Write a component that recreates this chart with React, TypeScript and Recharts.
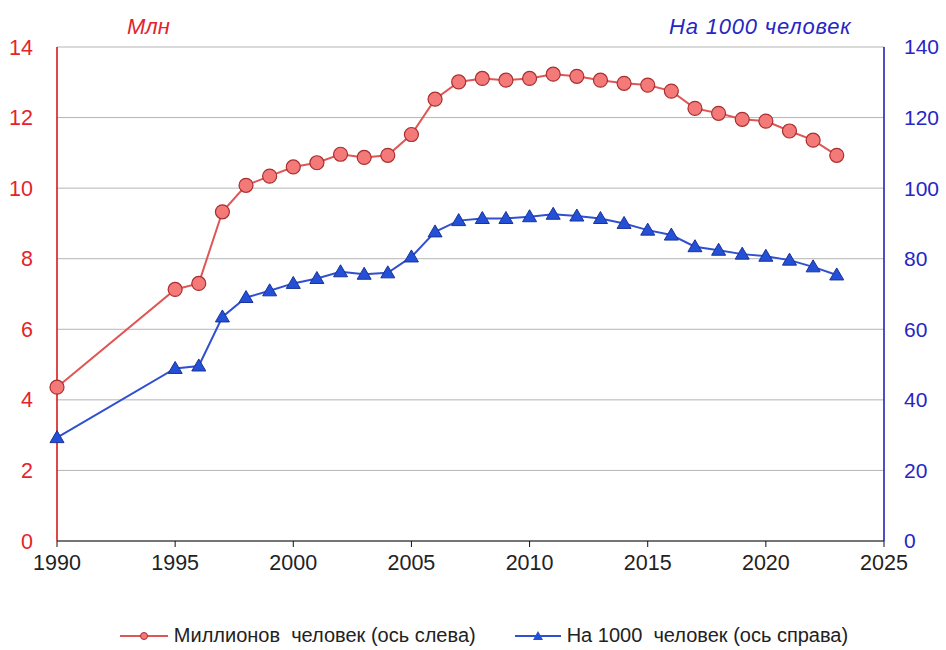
import React from 'react';
import { LineChart, Line, XAxis, YAxis, CartesianGrid, Legend } from 'recharts';

// годы наблюдений
const years = [1990, 1995, 1996, 1997, 1998, 1999, 2000, 2001, 2002, 2003, 2004, 2005, 2006, 2007, 2008, 2009, 2010, 2011, 2012, 2013, 2014, 2015, 2016, 2017, 2018, 2019, 2020, 2021, 2022, 2023];
// миллионов человек (ось слева)
const millions = [4.36, 7.13, 7.3, 9.33, 10.08, 10.34, 10.6, 10.72, 10.96, 10.87, 10.93, 11.52, 12.52, 13.01, 13.11, 13.06, 13.11, 13.23, 13.17, 13.06, 12.97, 12.92, 12.75, 12.26, 12.12, 11.95, 11.9, 11.62, 11.36, 10.93];
// на 1000 человек (ось справа)
const per1000 = [29.3, 48.9, 49.6, 63.5, 69.0, 70.9, 73.0, 74.4, 76.3, 75.6, 76.0, 80.5, 87.6, 90.8, 91.4, 91.4, 91.9, 92.6, 92.1, 91.4, 90.0, 88.1, 86.7, 83.4, 82.4, 81.3, 80.7, 79.6, 77.7, 75.4];

const xTicks = [1990, 1995, 2000, 2005, 2010, 2015, 2020, 2025];
const leftTicks = [0, 2, 4, 6, 8, 10, 12, 14];
const rightTicks = [0, 20, 40, 60, 80, 100, 120, 140];

const RED = '#e4232b';
const BLUE = '#2626c4';

const data = years.map((year, i) => ({ year, m: millions[i], p: per1000[i] }));

const Triangle = (props: any) => {
  const { cx, cy } = props;
  if (cx == null || cy == null) return null;
  return (
    <path
      key={`t-${cx}`}
      d={`M${cx},${cy - 7} L${cx + 7},${cy + 5} L${cx - 7},${cy + 5} Z`}
      fill="#2350d6"
      stroke="#1a3299"
      strokeWidth={1}
    />
  );
};

const LegendContent = () => (
  <div style={{ display: 'flex', justifyContent: 'center', alignItems: 'center', fontSize: 20, color: '#222', whiteSpace: 'pre', paddingLeft: 22 }}>
    <svg width={48} height={14} style={{ marginRight: 6 }}>
      <line x1={0} y1={7} x2={48} y2={7} stroke="#e05555" strokeWidth={2} />
      <circle cx={24} cy={7} r={3.5} fill="#f47a7a" stroke="#b02a2a" />
    </svg>
    <span>Миллионов  человек (ось слева)</span>
    <svg width={46} height={14} style={{ marginLeft: 39, marginRight: 6 }}>
      <line x1={0} y1={7} x2={46} y2={7} stroke="#3050d0" strokeWidth={2} />
      <path d="M23,2 L28,11 L18,11 Z" fill="#2350d6" />
    </svg>
    <span>На 1000  человек (ось справа)</span>
  </div>
);

export default function App() {
  return (
    <div style={{ position: 'absolute', left: 0, top: 0, width: 946, height: 650, fontFamily: '"Liberation Sans", Arial, sans-serif', background: '#fff' }}>
      <div style={{ position: 'absolute', left: 127, top: 14, fontSize: 22, fontStyle: 'italic', color: RED }}>Млн</div>
      <div style={{ position: 'absolute', left: 669, top: 14, fontSize: 22, fontStyle: 'italic', letterSpacing: 0.8, color: BLUE }}>На 1000 человек</div>
      <LineChart width={946} height={650} data={data} margin={{ top: 47, right: 0, bottom: 0, left: 0 }}>
        <CartesianGrid vertical={false} stroke="#b5b5b5" yAxisId="left" />
        <XAxis
          type="number"
          dataKey="year"
          domain={[1990, 2025]}
          ticks={xTicks}
          stroke="#111"
          tickSize={6}
          tickMargin={8}
          height={83}
          tick={{ fill: '#222', fontSize: 21.5 }}
        />
        <YAxis
          yAxisId="left"
          orientation="left"
          width={57}
          domain={[0, 14]}
          ticks={leftTicks}
          axisLine={{ stroke: '#d81818', strokeWidth: 1.6 }}
          tickLine={false}
          tickSize={0}
          tickMargin={24}
          tick={{ fill: RED, fontSize: 21.5 }}
        />
        <YAxis
          yAxisId="right"
          orientation="right"
          width={62}
          domain={[0, 140]}
          ticks={rightTicks}
          axisLine={{ stroke: '#2222bb', strokeWidth: 1.6 }}
          tickLine={false}
          tickSize={0}
          tickMargin={20}
          tick={{ fill: BLUE, fontSize: 21 }}
        />
        <Legend verticalAlign="bottom" height={26} content={<LegendContent />} />
        <Line
          yAxisId="left"
          dataKey="m"
          name="Миллионов человек (ось слева)"
          stroke="#e05555"
          strokeWidth={2}
          dot={{ r: 7, fill: '#f47a7a', stroke: '#a82e2e', strokeWidth: 1.2 }}
          isAnimationActive={false}
        />
        <Line
          yAxisId="right"
          dataKey="p"
          name="На 1000 человек (ось справа)"
          stroke="#3050d0"
          strokeWidth={2}
          dot={<Triangle />}
          isAnimationActive={false}
        />
      </LineChart>
    </div>
  );
}
